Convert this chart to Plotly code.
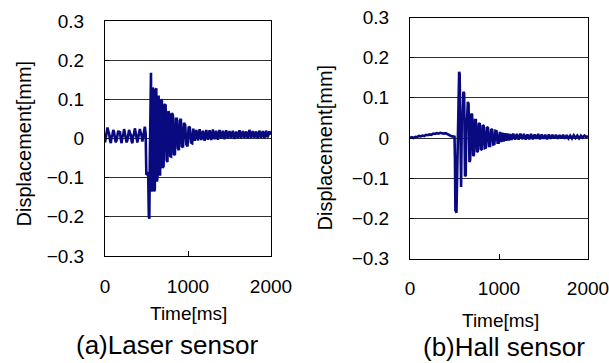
import plotly.graph_objects as go

# ---------------- data ----------------
laser_t = [0, 10, 20, 30, 40, 50, 60, 70, 80, 90, 100, 110, 120, 130, 140, 150, 160, 170, 180, 190,
           200, 210, 220, 230, 240, 250, 260, 270, 280, 290, 300, 310, 320, 330, 340, 350, 360, 370, 380, 390,
           400, 410, 420, 430, 440, 450, 460, 470, 480, 490,
           498, 510, 520, 528, 534, 540, 548, 554, 560, 568, 576, 584, 592, 600, 610, 618, 626, 636, 646, 656,
           664, 674, 686, 696, 706, 716, 730, 742, 752, 764, 776, 786, 796, 806, 818, 830, 842, 854, 866, 878,
           890, 902, 914, 926, 940, 952, 966, 980, 994, 1008, 1022, 1036, 1050, 1064,
           1080, 1100, 1120, 1140, 1160, 1180, 1200, 1220, 1240, 1260, 1280, 1300, 1320, 1340, 1360, 1380,
           1400, 1420, 1440, 1460, 1480, 1500, 1520, 1540, 1560, 1580, 1600, 1620, 1640, 1660, 1680, 1700,
           1720, 1740, 1760, 1780, 1800, 1820, 1840, 1860, 1880, 1900, 1920, 1940, 1960, 1980, 2000]
laser_v = [-0.010, 0.002, 0.010, 0.028, 0.018, 0.012, -0.004, -0.012, 0.004, 0.010, 0.022, 0.016, 0.000, -0.010, -0.004, 0.006, 0.020, 0.014, 0.018, -0.002,
           -0.012, 0.004, 0.010, 0.024, 0.012, 0.006, -0.010, -0.004, 0.006, 0.022, 0.014, 0.010, -0.006, -0.012, 0.006, 0.012, 0.026, 0.010, 0.004, -0.010,
           0.002, 0.010, 0.024, 0.014, 0.008, -0.008, 0.008, 0.016, 0.030, 0.012,
           -0.090, -0.092, -0.085, -0.200, -0.205, -0.050, 0.165, 0.168, -0.135, -0.130, 0.130, 0.120, -0.135, -0.130, 0.125, 0.128, -0.110, -0.090, 0.110, 0.020,
           -0.095, 0.100, 0.095, -0.075, -0.070, 0.085, 0.087, -0.055, -0.060, 0.070, 0.060, -0.045, -0.046, 0.065, 0.060, -0.040, -0.042, 0.050, 0.050, -0.025,
           -0.030, 0.045, 0.050, -0.020, -0.022, 0.040, 0.035, -0.015, -0.020, 0.030, 0.028, -0.010, -0.012, 0.025,
           -0.006, 0.022, -0.005, 0.024, -0.004, 0.020, -0.006, 0.022, -0.003, 0.021, -0.004, 0.023, -0.002, 0.020, -0.003, 0.022,
           0.000, 0.020, -0.002, 0.021, 0.000, 0.019, 0.001, 0.020, -0.001, 0.018, 0.001, 0.021, 0.000, 0.019, 0.002, 0.018,
           0.000, 0.022, 0.001, 0.019, 0.002, 0.018, 0.000, 0.020, 0.002, 0.019, 0.001, 0.020, 0.003, 0.018, 0.010]

hall_t = [0, 20, 40, 60, 80, 100, 120, 140, 160, 180, 200, 220, 240, 260, 280, 300, 320, 340, 360, 380,
          400, 420, 440, 460, 480, 500,
          505, 510, 522, 530, 538, 546, 552, 558, 566, 574, 582, 592, 600, 608, 618, 626, 634, 642, 650, 658,
          668, 676, 688, 698, 710, 718, 730, 740, 752, 762, 774, 784, 796, 806, 818, 828, 840, 852, 864, 876,
          888, 900, 912, 924, 936, 948, 960, 972, 984, 996, 1010, 1024, 1038, 1052, 1066, 1080, 1095, 1110, 1125, 1140,
          1160, 1180, 1200, 1220, 1240, 1260, 1280, 1300, 1320, 1340, 1360, 1380, 1400, 1420, 1440, 1460,
          1480, 1500, 1520, 1540, 1560, 1580, 1600, 1620, 1640, 1660, 1680, 1700, 1720, 1740, 1760, 1780,
          1800, 1820, 1840, 1860, 1880, 1900, 1920, 1940, 1960, 1980, 2000]
hall_v = [0.000, 0.002, 0.000, 0.003, 0.002, 0.005, 0.004, 0.006, 0.005, 0.008, 0.007, 0.009, 0.008, 0.011, 0.010, 0.012, 0.011, 0.013, 0.012, 0.011,
          0.012, 0.009, 0.007, 0.005, 0.004, 0.003,
          -0.050, -0.180, -0.186, -0.100, 0.050, 0.055, 0.165, 0.160, -0.120, -0.122, 0.050, 0.055, 0.115, 0.112, -0.095, -0.093, 0.045, 0.050, 0.090, 0.085,
          -0.060, -0.055, 0.060, 0.058, -0.045, -0.042, 0.045, 0.045, -0.035, -0.033, 0.037, 0.035, -0.030, -0.028, 0.032, 0.030, -0.025, -0.024, 0.027, 0.025,
          -0.020, -0.020, 0.022, 0.020, -0.016, -0.015, 0.018, 0.017, -0.012, -0.012, 0.015, -0.010, 0.013, -0.009, 0.012, -0.007, 0.011, -0.006, 0.010, -0.005,
          0.011, -0.004, 0.010, -0.004, 0.011, -0.003, 0.010, -0.004, 0.009, -0.003, 0.010, -0.003, 0.009, -0.002, 0.010, -0.003,
          0.009, -0.002, 0.008, -0.003, 0.009, -0.002, 0.008, -0.001, 0.008, -0.002, 0.007, -0.001, 0.008, -0.002, 0.007, -0.001,
          0.006, -0.001, 0.007, 0.000, 0.006, -0.001, 0.006, 0.001, 0.006, 0.002, 0.005]

y_ticks = [-0.3, -0.2, -0.1, 0, 0.1, 0.2, 0.3]
y_tick_text = ["\u22120.3", "\u22120.2", "\u22120.1", "0", "0.1", "0.2", "0.3"]
x_ticks = [0, 1000, 2000]
x_tick_text = ["0", "1000", "2000"]

y_title = "Displacement[mm]"
x_title = "Time[ms]"
captions = ["(a)Laser sensor", "(b)Hall sensor"]

# ---------------- figure ----------------
W, H = 609, 363
LINE = "#0a0a80"
FONT = "Liberation Sans, Arial, sans-serif"

fig = go.Figure()
fig.add_trace(go.Scatter(x=laser_t, y=laser_v, mode="lines",
                         line=dict(color=LINE, width=2.6), xaxis="x", yaxis="y"))
fig.add_trace(go.Scatter(x=hall_t, y=hall_v, mode="lines",
                         line=dict(color=LINE, width=2.6), xaxis="x2", yaxis="y2"))

def px_x(p):
    return p / W

def px_y(p):
    return 1 - p / H

xax = dict(range=[0, 2000], tickvals=x_ticks, ticktext=x_tick_text, ticks="inside", ticklen=5,
           tickcolor="black", showline=True, linecolor="black", linewidth=1, mirror=True,
           showgrid=False, zeroline=False, tickfont=dict(family=FONT, size=19, color="black"),
           ticklabelstandoff=13, automargin=False, ticklabeloverflow="allow")
yax = dict(range=[-0.3, 0.3], tickvals=y_ticks, ticktext=y_tick_text, ticks="inside", ticklen=4,
           tickcolor="black", showline=True, linecolor="black", linewidth=1, mirror=True,
           showgrid=True, gridcolor="#303030", gridwidth=1, zeroline=False,
           tickfont=dict(family=FONT, size=19, color="black"), ticklabelstandoff=16, automargin=False)

fig.update_layout(
    template="none",
    width=W, height=H, margin=dict(l=0, r=0, t=0, b=0, autoexpand=False),
    paper_bgcolor="white", plot_bgcolor="white", showlegend=False,
    xaxis=dict(xax, domain=[px_x(105), px_x(271)], anchor="y"),
    yaxis=dict(yax, domain=[px_y(256), px_y(21)], anchor="x"),
    xaxis2=dict(xax, domain=[px_x(410), px_x(588)], anchor="y2"),
    yaxis2=dict(yax, domain=[px_y(258.5), px_y(17.5)], anchor="x2"),
)

annots = [
    dict(text=y_title, x=px_x(23), y=px_y(143.5), textangle=-90, size=20),
    dict(text=y_title, x=px_x(325), y=px_y(147.5), textangle=-90, size=20),
    dict(text=x_title, x=px_x(188), y=px_y(313), textangle=0, size=19),
    dict(text=x_title, x=px_x(500), y=px_y(320), textangle=0, size=19),
    dict(text=captions[0], x=px_x(166.5), y=px_y(345), textangle=0, size=26),
    dict(text=captions[1], x=px_x(504), y=px_y(347), textangle=0, size=26),
]
for a in annots:
    fig.add_annotation(text=a["text"], x=a["x"], y=a["y"], xref="paper", yref="paper",
                       xanchor="center", yanchor="middle", showarrow=False, textangle=a["textangle"],
                       font=dict(family=FONT, size=a["size"], color="black"))

fig.write_html("out.html")
